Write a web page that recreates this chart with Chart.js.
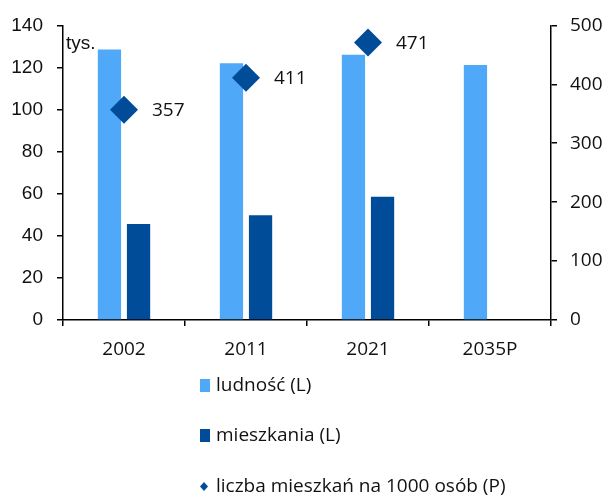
<!DOCTYPE html>
<html>
<head>
<meta charset="utf-8">
<script src="https://cdn.jsdelivr.net/npm/chart.js@4.4.1/dist/chart.umd.min.js"></script>
<style>
  html, body { margin: 0; padding: 0; background: #fff; }
  canvas { display: block; }
</style>
</head>
<body>
<canvas id="c" width="606" height="498"></canvas>
<script>
// Categories and series
const categories = ['2002', '2011', '2021', '2035P'];
const ludnosc = [128.6, 122.0, 126.0, 121.2];        // tys., left axis
const mieszkania = [45.6, 49.8, 58.6, null];         // tys., left axis
const mieszkanNa1000 = [357, 411, 471, null];        // right axis
const seriesNames = ['ludność (L)', 'mieszkania (L)', 'liczba mieszkań na 1000 osób (P)'];
const unitLabel = 'tys.';
const leftAxis = { min: 0, max: 140, step: 20 };
const rightAxis = { min: 0, max: 500, step: 100 };

const LIGHT = '#50A9F8';
const DARK = '#004C99';
const TEXT = '#111';
const AXIS_FONT_L = { family: '"Liberation Sans", Arial, sans-serif', size: 19 };
const AXIS_FONT = { family: '"Open Sans", sans-serif', size: 19 };

// Value labels beside the diamonds, the unit caption and a vertical legend
const extras = {
  id: 'extras',
  afterDatasetsDraw(chart) {
    const ctx = chart.ctx;
    ctx.save();
    // values next to the diamond markers
    const meta = chart.getDatasetMeta(0);
    ctx.fillStyle = TEXT;
    ctx.font = '19px "Open Sans", sans-serif';
    ctx.textBaseline = 'middle';
    ctx.textAlign = 'left';
    meta.data.forEach((pt, i) => {
      const v = chart.data.datasets[0].data[i];
      if (v == null) return;
      ctx.fillText(String(v), pt.x + 28, pt.y + 1);
    });
    // unit caption
    ctx.font = '19px "Liberation Sans", Arial, sans-serif';
    ctx.textBaseline = 'alphabetic';
    ctx.fillText(unitLabel, chart.chartArea.left + 3, 49);
    ctx.restore();
  },
  afterDraw(chart) {
    const ctx = chart.ctx;
    ctx.save();
    const ds = chart.data.datasets;
    const rows = [
      { d: ds[1], y: 385.5 },
      { d: ds[2], y: 435.5 },
      { d: ds[0], y: 486.5 }
    ];
    ctx.font = '19px "Open Sans", sans-serif';
    ctx.textBaseline = 'middle';
    ctx.textAlign = 'left';
    rows.forEach(r => {
      ctx.fillStyle = r.d.backgroundColor;
      if (r.d.type === 'line') {
        ctx.beginPath();
        ctx.moveTo(200, r.y);
        ctx.lineTo(204, r.y - 4.5);
        ctx.lineTo(208, r.y);
        ctx.lineTo(204, r.y + 4.5);
        ctx.closePath();
        ctx.fill();
      } else {
        ctx.fillRect(200, r.y - 6.5, 10, 13);
      }
      ctx.fillStyle = TEXT;
      ctx.fillText(r.d.label, 216, r.y);
    });
    ctx.restore();
  }
};

new Chart(document.getElementById('c'), {
  data: {
    labels: categories,
    datasets: [
      {
        type: 'line',
        label: seriesNames[2],
        data: mieszkanNa1000,
        yAxisID: 'y1',
        showLine: false,
        pointStyle: 'rectRot',
        pointRadius: 14,
        pointHoverRadius: 14,
        backgroundColor: DARK,
        borderColor: DARK,
        borderWidth: 0,
        order: 0
      },
      {
        type: 'bar',
        label: seriesNames[0],
        data: ludnosc,
        yAxisID: 'y',
        backgroundColor: LIGHT,
        categoryPercentage: 0.477,
        barPercentage: 0.8,
        order: 1
      },
      {
        type: 'bar',
        label: seriesNames[1],
        data: mieszkania,
        yAxisID: 'y',
        backgroundColor: DARK,
        categoryPercentage: 0.477,
        barPercentage: 0.8,
        order: 2
      }
    ]
  },
  options: {
    responsive: false,
    animation: false,
    devicePixelRatio: 1,
    layout: { padding: { top: 20, right: 0, bottom: 0, left: 0 } },
    plugins: {
      legend: { display: false },
      tooltip: { enabled: false }
    },
    scales: {
      x: {
        offset: true,
        grid: { offset: true, drawOnChartArea: false, drawTicks: true, tickLength: 6, color: '#000', lineWidth: 1.5 },
        border: { display: true, color: '#000', width: 1.5 },
        ticks: { color: TEXT, font: AXIS_FONT, padding: 12, maxRotation: 0 },
        afterFit(s) { s.height = 178; }
      },
      y: {
        position: 'left',
        min: leftAxis.min, max: leftAxis.max,
        grid: { drawOnChartArea: false, drawTicks: true, tickLength: 6, color: '#000', lineWidth: 1.5 },
        border: { display: true, color: '#000', width: 1.5 },
        ticks: { stepSize: leftAxis.step, color: TEXT, font: AXIS_FONT_L, padding: 14 },
        afterFit(s) { s.width = 63; }
      },
      y1: {
        position: 'right',
        min: rightAxis.min, max: rightAxis.max,
        grid: { drawOnChartArea: false, drawTicks: true, tickLength: 6, color: '#000', lineWidth: 1.5 },
        border: { display: true, color: '#000', width: 1.5 },
        ticks: { stepSize: rightAxis.step, color: TEXT, font: AXIS_FONT, padding: 13 },
        afterFit(s) { s.width = 55; }
      }
    }
  },
  plugins: [extras]
});
</script>
</body>
</html>
